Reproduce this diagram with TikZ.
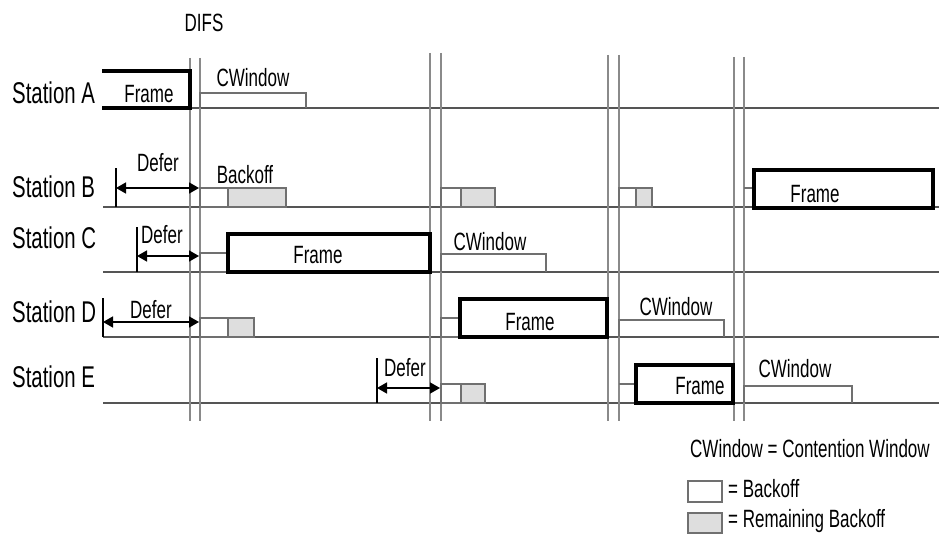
\documentclass[tikz,border=0pt]{standalone}
\usepackage{fontspec}
\setmainfont{Liberation Sans}[FakeStretch=0.68]
\usetikzlibrary{arrows.meta}
\definecolor{tlcol}{HTML}{555555}
\definecolor{vlcol}{HTML}{8A8A8A}
\definecolor{boxcol}{HTML}{707070}
\definecolor{remfill}{HTML}{DEDEDE}
\tikzset{
  station/.style={anchor=base west, inner sep=0pt, font=\fontsize{30}{36}\selectfont},
  lbl/.style={anchor=base, inner sep=0pt, font=\fontsize{25}{30}\selectfont},
  legendtxt/.style={anchor=base west, inner sep=0pt, font=\fontsize{25}{30}\selectfont},
  timeline/.style={draw=tlcol, line width=1.5pt},
  difsline/.style={draw=vlcol, line width=1.5pt},
  backoffbox/.style={draw=boxcol, line width=1.2pt, fill=white},
  rembox/.style={draw=boxcol, line width=1.2pt, fill=remfill},
  framebox/.style={draw=black, line width=3.5pt, line join=miter},
  cwbox/.style={draw=boxcol, line width=1.2pt},
  defertick/.style={draw=black, line width=1.2pt},
  deferarrow/.style={draw=black, line width=1.5pt,
    {Triangle[length=10pt,width=11pt]}-{Triangle[length=10pt,width=11pt]}},
}
\begin{document}
\begin{tikzpicture}[x=1pt,y=-1pt]
\useasboundingbox (0,0) rectangle (939,535);

% station labels
\node[station] (stA) at (12,103) {Station A};
\node[station] (stB) at (12,197) {Station B};
\node[station] (stC) at (12,248) {Station C};
\node[station] (stD) at (12,322) {Station D};
\node[station] (stE) at (12,387) {Station E};

% timelines
\draw[timeline] (190,108) -- (939,108);
\draw[timeline] (103,207) -- (939,207);
\draw[timeline] (103,272) -- (939,272);
\draw[timeline] (103,337) -- (939,337);
\draw[timeline] (103,403) -- (939,403);

% DIFS vertical lines
\draw[difsline] (190,58) -- (190,421);
\draw[difsline] (200,58) -- (200,421);
\draw[difsline] (430,53) -- (430,421);
\draw[difsline] (441,53) -- (441,421);
\draw[difsline] (608,55) -- (608,421);
\draw[difsline] (619,55) -- (619,421);
\draw[difsline] (734,57) -- (734,421);
\draw[difsline] (744,57) -- (744,421);
\node[lbl] (difs) at (204,32) {DIFS};

% Station A
\draw[framebox] (102,71) -- (190,71) -- (190,108) -- (102,108);
\node[lbl] (frA) at (149,102) {Frame};
\draw[cwbox] (200,108) -- (200,93) -- (306,93) -- (306,108);
\node[lbl] (cwA) at (253,86) {CWindow};

% Station B
\draw[defertick] (116,168) -- (116,207);
\coordinate (dB1) at (116,188);
\coordinate (dB2) at (199,188);
\draw[deferarrow] (dB1) -- (dB2);
\node[lbl] (defB) at (158,171) {Defer};
\draw[backoffbox] (200,188) rectangle (228,207);
\draw[rembox] (228,188) rectangle (286,207);
\node[lbl] (boB) at (245,183) {Backoff};
\draw[backoffbox] (441,188) rectangle (461,207);
\draw[rembox] (461,188) rectangle (495,207);
\draw[backoffbox] (619,188) rectangle (636,207);
\draw[rembox] (636,188) rectangle (652,207);
\draw[cwbox] (744,188) -- (754,188);
\draw[framebox] (754,170) rectangle (933,208);
\node[lbl] (frB) at (815,202) {Frame};

% Station C
\draw[defertick] (137,227) -- (137,272);
\coordinate (dC1) at (137,256);
\coordinate (dC2) at (199,256);
\draw[deferarrow] (dC1) -- (dC2);
\node[lbl] (defC) at (162,243) {Defer};
\draw[backoffbox] (200,253) rectangle (228,272);
\draw[framebox] (228,234) rectangle (430,272);
\node[lbl] (frC) at (318,263) {Frame};
\draw[cwbox] (441,272) -- (441,254) -- (546,254) -- (546,272);
\node[lbl] (cwC) at (490,250) {CWindow};

% Station D
\draw[defertick] (103,298) -- (103,337);
\coordinate (dD1) at (103,322);
\coordinate (dD2) at (199,322);
\draw[deferarrow] (dD1) -- (dD2);
\node[lbl] (defD) at (151,318) {Defer};
\draw[backoffbox] (200,318) rectangle (228,337);
\draw[rembox] (228,318) rectangle (254,337);
\draw[backoffbox] (441,318) rectangle (460,337);
\draw[framebox] (460,299) rectangle (607,337);
\node[lbl] (frD) at (530,330) {Frame};
\draw[cwbox] (619,337) -- (619,320) -- (724,320) -- (724,337);
\node[lbl] (cwD) at (676,315) {CWindow};

% Station E
\draw[defertick] (377,358) -- (377,403);
\coordinate (dE1) at (377,388);
\coordinate (dE2) at (440,388);
\draw[deferarrow] (dE1) -- (dE2);
\node[lbl] (defE) at (405,376) {Defer};
\draw[backoffbox] (441,384) rectangle (461,403);
\draw[rembox] (461,384) rectangle (485,403);
\draw[cwbox] (619,384) -- (636,384);
\draw[framebox] (636,365) rectangle (733,403);
\node[lbl] (frE) at (700,394) {Frame};
\draw[cwbox] (744,403) -- (744,386) -- (852,386) -- (852,403);
\node[lbl] (cwE) at (795,377) {CWindow};

% legend
\node[legendtxt] (lg1) at (690,457) {CWindow = Contention Window};
\draw[backoffbox] (688,481) rectangle (722,502);
\node[legendtxt] (lg2) at (728,497) {= Backoff};
\draw[rembox] (688,513) rectangle (722,533);
\node[legendtxt] (lg3) at (728,527) {= Remaining Backoff};
\end{tikzpicture}
\end{document}
